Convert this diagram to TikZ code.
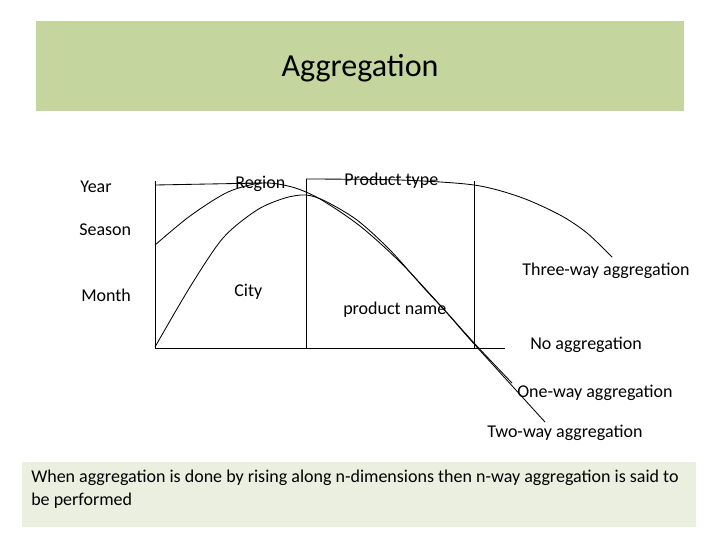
\documentclass[tikz,border=0pt]{standalone}
\usepackage{fontspec}
\setmainfont{Carlito}
\usetikzlibrary{positioning}

\definecolor{titlegreen}{RGB}{196,214,158}
\definecolor{notegreen}{RGB}{235,239,223}

\begin{document}
\begin{tikzpicture}[x=0.025cm,y=-0.025cm]
	 \tikzstyle{lbl}=[anchor=west,inner sep=0pt,font=\fontsize{12.8}{15}\selectfont]
	 \tikzstyle{edge} = [draw,black,line width=0.6pt]
	 \useasboundingbox (0,0) rectangle (720,540);

	 % boxes
	 \node[fill=titlegreen,minimum width=16.2cm,minimum height=2.25cm,inner sep=0pt] (title) at (360,66) {};
	 \node[inner sep=0pt,font=\fontsize{22.8}{27}\selectfont] (titletext) at (360,68.5) {Aggregation};
	 \node[fill=notegreen,minimum width=16.85cm,minimum height=1.625cm,inner sep=0pt] (note) at (359,494.5) {};
	 \node[anchor=north west,inner sep=0pt,align=left,font=\fontsize{12.8}{16}\selectfont]
	       (notetext) at (31,470) {When aggregation is done by rising along n-dimensions then n-way aggregation is said to\\be performed};

	 % labels
	 \node[lbl] (year) at (80,187) {Year};
	 \node[lbl] (season) at (79,230) {Season};
	 \node[lbl] (month) at (81,295) {Month};
	 \node[lbl] (region) at (235,184) {Region};
	 \node[lbl] (city) at (234,292) {City};
	 \node[lbl] (ptype) at (344,181) {Product type};
	 \node[lbl] (pname) at (343,310) {product name};
	 \node[lbl] (three) at (522,271) {Three-way aggregation};
	 \node[lbl] (none) at (530,345) {No aggregation};
	 \node[lbl] (one) at (517,393) {One-way aggregation};
	 \node[lbl] (two) at (487,433) {Two-way aggregation};

	 % grid
	 \coordinate (t1) at (155,181);
	 \coordinate (b1) at (155,348);
	 \coordinate (t2) at (306,179);
	 \coordinate (b2) at (306,348);
	 \coordinate (t3) at (474,181);
	 \coordinate (b3) at (474,348);
	 \coordinate (b4) at (505,348);
	 \draw[edge] (t1) -- (b1) -- (b4);
	 \draw[edge] (t2) -- (b2);
	 \draw[edge] (t3) -- (b3);

	 % curves
	 \coordinate (ytop) at (155,185);
	 \coordinate (rtop) at (262,183);
	 \draw[edge] (ytop) -- (rtop);
	 \draw[edge] plot[smooth] coordinates {(155,245) (190,216) (228,192) (262,183) (292,187) (320,199) (360,226) (400,262) (440,305) (475,344) (512,383)};
	 \draw[edge] plot[smooth] coordinates {(155,347) (190,287) (223,238) (257,210) (285,198) (306,195) (325,201) (357,220) (390,250) (423,287) (447,313) (475,345) (545,422)};
	 \draw[edge] plot[smooth] coordinates {(306,179) (400,180) (474,185) (520,197) (560,215) (587,233) (612,257)};
 \end{tikzpicture}
\end{document}
